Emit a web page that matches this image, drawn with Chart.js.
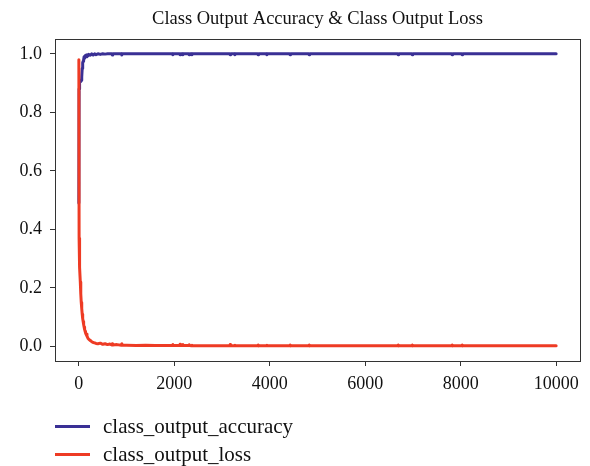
<!DOCTYPE html>
<html>
<head>
<meta charset="utf-8">
<script src="https://cdn.jsdelivr.net/npm/chart.js@4"></script>
<style>
  body { margin: 0; background: #fff; }
  #wrap { position: relative; width: 590px; height: 466px; }
  #legend { position: absolute; left: 55px; top: 412px; font-family: "Liberation Serif", serif; font-size: 21px; color: #111; }
  .item { display: flex; align-items: center; height: 28px; }
  .swatch { width: 35px; height: 3px; margin-right: 13px; }
</style>
</head>
<body>
<div id="wrap">
  <canvas id="chart" width="590" height="466"></canvas>
  <div id="legend"></div>
</div>
<script>
// training steps and the two metrics
const steps = [0, 5, 10, 20, 30, 40, 50, 60, 70, 80, 90, 100, 110, 120, 130, 140, 150, 170, 190, 210, 240, 270, 300, 330, 360, 400, 450, 500, 550, 600, 650, 690, 700, 710, 800, 890, 900, 910, 1000, 1200, 1400, 1600, 1800, 1960, 1970, 1980, 2110, 2120, 2130, 2170, 2180, 2190, 2300, 2310, 2320, 2360, 2370, 2380, 2700, 3160, 3170, 3180, 3260, 3270, 3280, 3500, 3745, 3755, 3765, 3930, 3940, 3950, 4200, 4415, 4425, 4435, 4815, 4825, 4835, 5500, 6000, 6680, 6690, 6700, 6975, 6985, 6995, 7400, 7810, 7820, 7830, 8020, 8030, 8040, 8500, 9000, 9500, 10000];
const accuracy = [0.49, 0.88, 0.91, 0.90, 0.91, 0.905, 0.91, 0.92, 0.95, 0.97, 0.975, 0.98, 0.99, 0.985, 0.99, 0.995, 0.99, 0.997, 0.993, 0.998, 0.995, 1.0, 0.996, 1.0, 0.997, 1.0, 0.998, 1.0, 0.999, 1.0, 1.0, 1.0, 0.996, 1.0, 1.0, 1.0, 0.996, 1.0, 1.0, 1.0, 1.0, 1.0, 1.0, 1.0, 0.997, 1.0, 1.0, 0.997, 1.0, 1.0, 0.997, 1.0, 1.0, 0.997, 1.0, 1.0, 0.997, 1.0, 1.0, 1.0, 0.997, 1.0, 1.0, 0.997, 1.0, 1.0, 1.0, 0.997, 1.0, 1.0, 0.997, 1.0, 1.0, 1.0, 0.997, 1.0, 1.0, 0.997, 1.0, 1.0, 1.0, 1.0, 0.997, 1.0, 1.0, 0.997, 1.0, 1.0, 1.0, 0.997, 1.0, 1.0, 0.997, 1.0, 1.0, 1.0, 1.0, 1.0];
const loss = [0.98, 0.37, 0.33, 0.27, 0.22, 0.18, 0.15, 0.13, 0.11, 0.095, 0.085, 0.075, 0.066, 0.058, 0.052, 0.046, 0.042, 0.035, 0.028, 0.024, 0.02, 0.016, 0.013, 0.012, 0.01, 0.009, 0.011, 0.007, 0.009, 0.006, 0.008, 0.005, 0.009, 0.005, 0.006, 0.004, 0.009, 0.004, 0.004, 0.003, 0.004, 0.003, 0.003, 0.003, 0.006, 0.003, 0.003, 0.007, 0.003, 0.003, 0.006, 0.003, 0.003, 0.005, 0.003, 0.002, 0.004, 0.002, 0.002, 0.002, 0.006, 0.002, 0.002, 0.004, 0.002, 0.002, 0.002, 0.004, 0.002, 0.002, 0.004, 0.002, 0.002, 0.002, 0.004, 0.002, 0.002, 0.004, 0.002, 0.002, 0.002, 0.002, 0.004, 0.002, 0.002, 0.004, 0.002, 0.002, 0.002, 0.004, 0.002, 0.002, 0.004, 0.002, 0.002, 0.002, 0.002, 0.002];

const xTicks = [0, 2000, 4000, 6000, 8000, 10000];
const yTicks = [0.0, 0.2, 0.4, 0.6, 0.8, 1.0];

const serif = "'Liberation Serif', 'Times New Roman', serif";

// full box around the plot area, like matplotlib spines
const frame = {
  id: "frame",
  afterLayout(chart) {
    // center the title over the axes, not the whole canvas
    const t = chart.titleBlock;
    if (t) {
      t.left = chart.chartArea.left;
      t.right = chart.chartArea.right;
    }
  },
  afterDatasetsDraw(chart) {
    const { ctx, chartArea: a } = chart;
    ctx.save();
    ctx.strokeStyle = "#333";
    ctx.lineWidth = 1;
    ctx.strokeRect(Math.round(a.left) + 0.5, Math.round(a.top) + 0.5, Math.round(a.right - a.left), Math.round(a.bottom - a.top));
    ctx.restore();
  },
};

const ctx = document.getElementById("chart").getContext("2d");
const chart = new Chart(ctx, {
  type: "line",
  data: {
    datasets: [
      {
        label: "class_output_accuracy",
        data: steps.map((s, i) => ({ x: s, y: accuracy[i] })),
        borderColor: "#3a3095",
        borderWidth: 3,
        borderJoinStyle: "round",
        borderCapStyle: "round",
        pointRadius: 0,
        tension: 0,
        order: 1,
      },
      {
        label: "class_output_loss",
        data: steps.map((s, i) => ({ x: s, y: loss[i] })),
        borderColor: "#ee3b24",
        borderWidth: 3,
        borderJoinStyle: "round",
        borderCapStyle: "round",
        pointRadius: 0,
        tension: 0,
        order: 0,
      },
    ],
  },
  options: {
    responsive: false,
    animation: false,
    layout: { padding: { left: 0, right: 10, top: 0, bottom: 0 } },
    plugins: {
      legend: { display: false },
      tooltip: { enabled: false },
      title: {
        display: true,
        text: "Class Output Accuracy & Class Output Loss",
        color: "#111",
        font: { family: serif, size: 18.5, weight: "normal" },
        padding: { top: 8, bottom: 9 },
      },
    },
    scales: {
      x: {
        type: "linear",
        min: -500,
        max: 10500,
        border: { display: false },
        grid: { display: true, drawOnChartArea: false, drawTicks: true, tickLength: 5, color: "#333" },
        afterBuildTicks: (scale) => { scale.ticks = xTicks.map((v) => ({ value: v })); },
        afterFit: (scale) => { scale.height = 105; },
        ticks: {
          color: "#111",
          padding: 7,
          font: { family: serif, size: 18 },
          callback: (v) => String(v),
        },
      },
      y: {
        type: "linear",
        min: -0.05,
        max: 1.05,
        border: { display: false },
        grid: { display: true, drawOnChartArea: false, drawTicks: true, tickLength: 5, color: "#333" },
        afterBuildTicks: (scale) => { scale.ticks = yTicks.map((v) => ({ value: v })); },
        afterFit: (scale) => { scale.width = 55; },
        ticks: {
          color: "#111",
          padding: 8,
          font: { family: serif, size: 18 },
          callback: (v) => v.toFixed(1),
        },
      },
    },
  },
  plugins: [frame],
});

// legend stacked under the axes, built from the datasets
const legend = document.getElementById("legend");
chart.data.datasets.forEach((ds) => {
  const row = document.createElement("div");
  row.className = "item";
  const sw = document.createElement("span");
  sw.className = "swatch";
  sw.style.background = ds.borderColor;
  const txt = document.createElement("span");
  txt.textContent = ds.label;
  row.appendChild(sw);
  row.appendChild(txt);
  legend.appendChild(row);
});
</script>
</body>
</html>
